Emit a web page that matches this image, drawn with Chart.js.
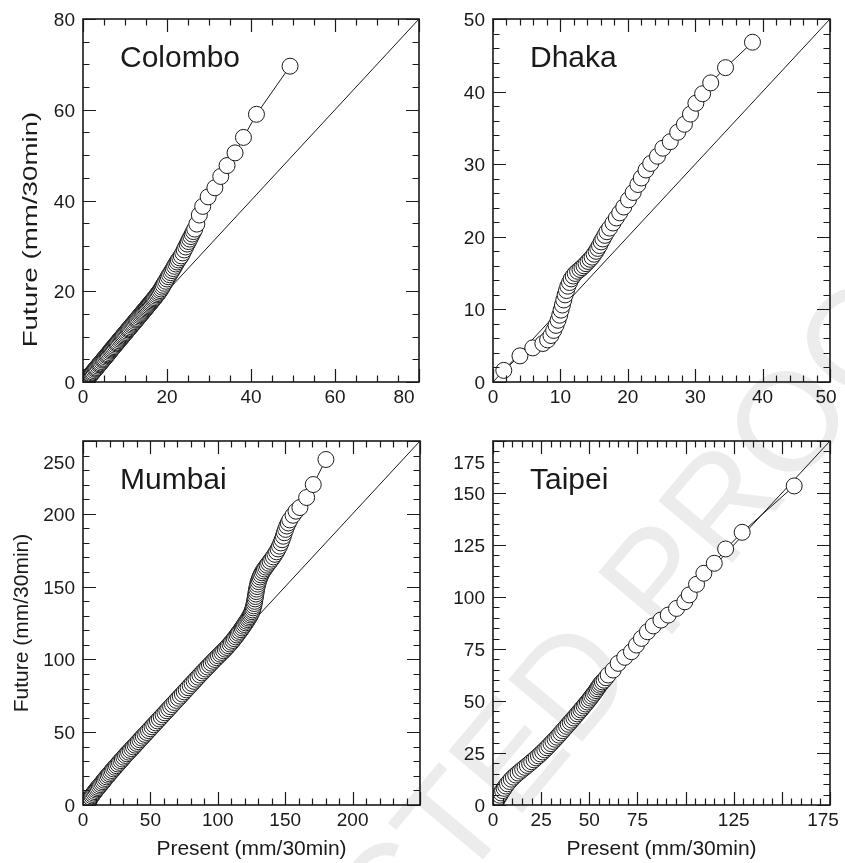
<!DOCTYPE html>
<html lang="en">
<head>
<meta charset="utf-8">
<title>Present vs Future 30-min rainfall</title>
<script src="https://cdn.jsdelivr.net/npm/chart.js@4.4.1/dist/chart.umd.min.js"></script>
<style>
    html, body { margin: 0; padding: 0; background: #fff; }
    #stage { position: relative; width: 845px; height: 863px; overflow: hidden; background: #fff; }
    #stage canvas { position: absolute; left: 0; top: 0; }
    #watermark {
        position: absolute; left: -97px; top: 1406px;
        font: 140px "Liberation Sans", Arial, sans-serif; line-height: 140px;
        color: #ececec; white-space: nowrap;
        transform-origin: 0 70px; transform: rotate(-50deg);
    }
</style>
</head>
<body>
<div id="stage">
    <div id="watermark">UNCORRECTED PROOF</div>
    <canvas id="colombo" width="845" height="863"></canvas>
    <canvas id="dhaka" width="845" height="863"></canvas>
    <canvas id="mumbai" width="845" height="863"></canvas>
    <canvas id="taipei" width="845" height="863"></canvas>
</div>
<script>
// Quantile pairs (mm/30min)
const colomboPresent = [0.4, 0.6, 0.8, 1.05, 1.3, 1.5, 1.7, 1.85, 2.0, 2.2, 2.4, 2.65, 2.9, 3.1, 3.3, 3.55, 3.8, 4.0, 4.2, 4.45, 4.7, 4.9, 5.1, 5.35, 5.6, 5.8, 6.0, 6.25, 6.5, 6.7, 6.9, 7.15, 7.4, 7.65, 7.9, 8.1, 8.3, 8.55, 8.8, 9.05, 9.3, 9.5, 9.7, 9.95, 10.2, 10.45, 10.7, 10.9, 11.1, 11.35, 11.6, 11.85, 12.1, 12.35, 12.6, 12.8, 13.0, 13.25, 13.5, 13.75, 14.0, 14.2, 14.4, 14.65, 14.9, 15.1, 15.3, 15.55, 15.8, 16.0, 16.2, 16.45, 16.7, 16.9, 17.1, 17.35, 17.6, 17.85, 18.1, 18.35, 18.6, 18.85, 19.1, 19.4, 19.7, 20.0, 20.3, 20.6, 20.9, 21.2, 21.5, 21.8, 22.1, 22.4, 22.7, 23.05, 23.4, 23.75, 24.1, 24.45, 24.8, 25.1, 25.4, 25.7, 26.0, 26.3, 26.6, 27.1, 27.7, 28.5, 29.8, 31.4, 32.8, 34.3, 36.2, 38.2, 41.3, 49.3];
const colomboFuture = [0.3, 0.45, 0.6, 0.85, 1.1, 1.3, 1.5, 1.65, 1.8, 2.0, 2.2, 2.5, 2.8, 3.0, 3.2, 3.5, 3.8, 4.0, 4.2, 4.5, 4.8, 5.0, 5.2, 5.5, 5.8, 6.0, 6.2, 6.5, 6.8, 7.05, 7.3, 7.55, 7.8, 8.1, 8.4, 8.6, 8.8, 9.1, 9.4, 9.65, 9.9, 10.15, 10.4, 10.65, 10.9, 11.2, 11.5, 11.7, 11.9, 12.2, 12.5, 12.75, 13.0, 13.3, 13.6, 13.8, 14.0, 14.3, 14.6, 14.85, 15.1, 15.35, 15.6, 15.85, 16.1, 16.35, 16.6, 16.85, 17.1, 17.35, 17.6, 17.85, 18.1, 18.35, 18.6, 18.9, 19.2, 19.5, 19.8, 20.15, 20.5, 20.9, 21.3, 21.75, 22.2, 22.7, 23.2, 23.65, 24.1, 24.55, 25.0, 25.5, 26.0, 26.45, 26.9, 27.35, 27.8, 28.45, 29.1, 29.75, 30.4, 30.95, 31.5, 32.05, 32.6, 33.15, 33.7, 34.8, 36.8, 38.7, 40.8, 42.8, 45.3, 47.7, 50.5, 53.9, 59.0, 69.6];

const dhakaPresent = [1.6, 4.0, 5.9, 7.4, 8.1, 8.6, 9.0, 9.35, 9.65, 9.9, 10.1, 10.3, 10.5, 10.7, 10.9, 11.1, 11.35, 11.6, 11.9, 12.2, 12.55, 12.9, 13.2, 13.5, 13.8, 14.1, 14.4, 14.7, 15.0, 15.3, 15.55, 15.8, 16.05, 16.3, 16.6, 16.9, 17.3, 17.8, 18.3, 18.8, 19.4, 20.1, 20.8, 21.5, 22.0, 22.7, 23.4, 24.4, 25.2, 26.3, 27.4, 28.4, 29.3, 30.1, 31.1, 32.3, 34.5, 38.5];
const dhakaFuture = [1.6, 3.6, 4.7, 5.3, 5.8, 6.4, 7.1, 7.8, 8.5, 9.2, 9.9, 10.6, 11.3, 12.0, 12.6, 13.2, 13.7, 14.2, 14.6, 14.95, 15.25, 15.5, 15.75, 16.0, 16.3, 16.6, 16.9, 17.2, 17.6, 18.0, 18.4, 18.8, 19.3, 19.7, 20.2, 20.7, 21.2, 21.9, 22.6, 23.3, 24.1, 25.1, 26.1, 27.2, 28.1, 29.2, 30.1, 31.1, 32.2, 33.1, 34.4, 35.5, 36.9, 38.4, 39.7, 41.2, 43.3, 46.8];

const mumbaiPresent = [3.5, 4.2, 5.0, 5.7, 6.5, 7.2, 8.0, 8.8, 9.6, 10.4, 11.2, 12.1, 13.0, 13.9, 14.8, 15.7, 16.7, 17.6, 18.6, 19.6, 20.6, 21.6, 22.7, 23.7, 24.8, 25.9, 27.0, 28.1, 29.2, 30.3, 31.5, 32.6, 33.8, 35.0, 36.2, 37.4, 38.6, 39.8, 41.0, 42.2, 43.5, 44.7, 46.0, 47.3, 48.6, 49.9, 51.2, 52.5, 53.9, 55.2, 56.6, 58.0, 59.4, 60.8, 62.2, 63.6, 65.0, 66.4, 67.9, 69.3, 70.8, 72.2, 73.7, 75.1, 76.6, 78.0, 79.5, 80.9, 82.4, 83.8, 85.3, 86.7, 88.2, 89.6, 91.0, 92.4, 93.8, 95.1, 96.5, 97.8, 99.2, 100.5, 101.8, 103.0, 104.3, 105.5, 106.7, 107.8, 109.0, 110.1, 111.2, 112.2, 113.3, 114.3, 115.3, 116.2, 117.2, 118.1, 119.0, 119.8, 120.7, 121.4, 122.2, 122.9, 123.6, 124.2, 124.8, 125.3, 125.8, 126.2, 126.6, 127.0, 127.3, 127.6, 127.9, 128.2, 128.5, 128.8, 129.2, 129.6, 130.1, 130.7, 131.3, 132.0, 132.8, 133.7, 134.6, 135.6, 136.6, 137.7, 138.8, 140.0, 141.2, 142.4, 143.6, 144.7, 145.8, 146.8, 147.7, 148.6, 149.4, 150.3, 151.2, 152.3, 153.4, 155.8, 158.0, 160.9, 165.9, 170.8, 180.2];
const mumbaiFuture = [2.0, 3.1, 4.2, 5.25, 6.3, 7.25, 8.2, 9.2, 10.2, 11.1, 12.0, 13.0, 14.0, 15.0, 16.0, 17.1, 18.2, 19.3, 20.4, 21.45, 22.5, 23.65, 24.8, 25.9, 27.0, 28.15, 29.3, 30.45, 31.6, 32.8, 34.0, 35.15, 36.3, 37.5, 38.7, 39.9, 41.1, 42.3, 43.5, 44.75, 46.0, 47.25, 48.5, 49.8, 51.1, 52.4, 53.7, 55.05, 56.4, 57.75, 59.1, 60.5, 61.9, 63.3, 64.7, 66.1, 67.5, 68.95, 70.4, 71.85, 73.3, 74.75, 76.2, 77.65, 79.1, 80.55, 82.0, 83.45, 84.9, 86.35, 87.8, 89.25, 90.7, 92.05, 93.4, 94.75, 96.1, 97.4, 98.7, 99.95, 101.2, 102.4, 103.6, 104.75, 105.9, 107.05, 108.2, 109.4, 110.6, 111.8, 113.0, 114.25, 115.5, 116.75, 118.0, 119.2, 120.4, 121.6, 122.8, 123.95, 125.1, 126.2, 127.3, 128.35, 129.4, 130.5, 131.6, 132.8, 134.0, 135.4, 136.8, 138.35, 139.9, 141.55, 143.2, 144.9, 146.6, 148.3, 150.0, 151.7, 153.4, 155.0, 156.6, 158.05, 159.5, 160.8, 162.1, 163.4, 164.7, 166.05, 167.4, 168.9, 170.4, 172.15, 173.9, 175.85, 177.8, 180.0, 182.2, 184.6, 187.0, 189.3, 191.6, 193.7, 195.8, 199.0, 201.8, 204.3, 211.2, 220.1, 237.3];

const taipeiPresent = [1.5, 2.1, 2.8, 3.5, 4.2, 5.0, 5.8, 6.6, 7.5, 8.5, 9.5, 10.6, 11.8, 13.0, 14.2, 15.4, 16.6, 17.8, 19.0, 20.1, 21.3, 22.4, 23.6, 24.7, 25.8, 26.9, 28.0, 29.0, 30.1, 31.1, 32.2, 33.2, 34.2, 35.2, 36.2, 37.2, 38.2, 39.1, 40.1, 41.0, 42.0, 42.9, 43.8, 44.7, 45.6, 46.4, 47.3, 48.1, 49.0, 49.8, 50.6, 51.3, 52.1, 52.8, 53.5, 54.1, 54.8, 55.4, 56.0, 56.8, 57.7, 58.7, 59.8, 62.4, 65.0, 68.4, 71.9, 74.5, 77.1, 80.2, 83.2, 87.2, 91.0, 95.3, 99.6, 101.9, 105.7, 109.5, 114.9, 120.8, 129.4, 156.4];
const taipeiFuture = [1.5, 2.5, 3.6, 4.7, 5.8, 6.9, 8.0, 9.1, 10.2, 11.3, 12.4, 13.4, 14.4, 15.35, 16.3, 17.2, 18.1, 19.0, 19.9, 20.8, 21.7, 22.65, 23.6, 24.55, 25.5, 26.5, 27.5, 28.5, 29.5, 30.55, 31.6, 32.6, 33.6, 34.65, 35.7, 36.75, 37.8, 38.8, 39.8, 40.8, 41.8, 42.8, 43.8, 44.75, 45.7, 46.65, 47.6, 48.55, 49.5, 50.45, 51.4, 52.3, 53.2, 54.1, 55.0, 55.9, 56.8, 57.6, 58.4, 59.2, 60.0, 61.2, 62.5, 64.9, 68.1, 71.0, 73.7, 76.9, 80.1, 83.3, 86.1, 88.9, 91.3, 94.5, 97.7, 101.0, 106.1, 111.4, 116.2, 123.1, 131.1, 153.4];

// axis ranges and the tick labels printed on each axis
const colomboRange = [0, 80];
const colomboTicks = [0, 20, 40, 60, 80];
const dhakaRange = [0, 50];
const dhakaTicks = [0, 10, 20, 30, 40, 50];
const mumbaiRange = [0, 250];
const mumbaiXTicks = [0, 50, 100, 150, 200];
const mumbaiYTicks = [0, 50, 100, 150, 200, 250];
const taipeiRange = [0, 175];
const taipeiXTicks = [0, 25, 50, 75, 125, 175];
const taipeiYTicks = [0, 25, 50, 75, 100, 125, 150, 175];

const PAGE_W = 845, PAGE_H = 863;
const INK = '#1a1a1a';
const FONT = '"Liberation Sans", Arial, Helvetica, sans-serif';
const X_TITLE = 'Present (mm/30min)';
const Y_TITLE = 'Future (mm/30min)';

Chart.defaults.font.family = FONT;
Chart.defaults.color = INK;
Chart.defaults.animation = false;

const panels = [
    { canvas: 'colombo', name: 'Colombo', present: colomboPresent, future: colomboFuture, range: colomboRange,
      xTicks: colomboTicks, yTicks: colomboTicks, minor: 5, major: 20,
      box: { left: 83, top: 19, right: 419, bottom: 382 }, yWidth: 64, xHeight: 40,
      yTitle: false, xTitle: false, nudgeX: { 80: -15 }, nudgeY: {},
      // this panel's y title is printed longer and lower than the one below it
      stretchedTitle: { scale: 1.32, shift: 29 } },
    { canvas: 'dhaka', name: 'Dhaka', present: dhakaPresent, future: dhakaFuture, range: dhakaRange,
      xTicks: dhakaTicks, yTicks: dhakaTicks, minor: 2, major: 10,
      box: { left: 493, top: 19, right: 830, bottom: 382 }, yWidth: 60, xHeight: 40,
      yTitle: false, xTitle: false, nudgeX: { 50: -4 }, nudgeY: {} },
    { canvas: 'mumbai', name: 'Mumbai', present: mumbaiPresent, future: mumbaiFuture, range: mumbaiRange,
      xTicks: mumbaiXTicks, yTicks: mumbaiYTicks, minor: 10, major: 50,
      box: { left: 83, top: 441, right: 420, bottom: 805 }, yWidth: 73, xHeight: 57,
      yTitle: true, xTitle: true, nudgeX: {}, nudgeY: { 250: 21 } },
    { canvas: 'taipei', name: 'Taipei', present: taipeiPresent, future: taipeiFuture, range: taipeiRange,
      xTicks: taipeiXTicks, yTicks: taipeiYTicks, minor: 5, major: 25,
      box: { left: 493, top: 441, right: 830, bottom: 805 }, yWidth: 60, xHeight: 57,
      yTitle: false, xTitle: true, nudgeX: { 175: -7 }, nudgeY: { 175: 21 } }
];

// frame, inward ticks on all four sides, tick labels and the city name
function makeFrame(p) {
    return {
        id: 'frame-' + p.canvas,
        afterDraw(chart) {
            const { ctx, chartArea: a, scales: { x, y } } = chart;
            ctx.save();
            ctx.strokeStyle = INK;
            ctx.lineWidth = 1.2;
            ctx.beginPath();
            x.ticks.forEach(t => {
                const px = Math.round(x.getPixelForValue(t.value)) + 0.5;
                const len = t.value % p.major === 0 ? 13 : 6.5;
                ctx.moveTo(px, a.bottom); ctx.lineTo(px, a.bottom - len);
                ctx.moveTo(px, a.top); ctx.lineTo(px, a.top + len);
            });
            y.ticks.forEach(t => {
                const py = Math.round(y.getPixelForValue(t.value)) + 0.5;
                const len = t.value % p.major === 0 ? 13 : 6.5;
                ctx.moveTo(a.left, py); ctx.lineTo(a.left + len, py);
                ctx.moveTo(a.right, py); ctx.lineTo(a.right - len, py);
            });
            ctx.stroke();
            ctx.lineWidth = 1.6;
            ctx.strokeRect(a.left, a.top, a.right - a.left, a.bottom - a.top);

            ctx.fillStyle = INK;
            ctx.textBaseline = 'alphabetic';
            ctx.font = '19px ' + FONT;
            ctx.textAlign = 'center';
            p.xTicks.forEach(v => ctx.fillText(String(v), x.getPixelForValue(v) + (p.nudgeX[v] || 0), a.bottom + 21));
            ctx.textAlign = 'right';
            p.yTicks.forEach(v => ctx.fillText(String(v), a.left - 8, y.getPixelForValue(v) + 7 + (p.nudgeY[v] || 0)));

            ctx.textAlign = 'left';
            ctx.font = '30px ' + FONT;
            ctx.fillText(p.name, a.left + 37, a.top + 48);

            if (p.stretchedTitle) {
                ctx.font = '21px ' + FONT;
                ctx.textAlign = 'center';
                ctx.textBaseline = 'middle';
                ctx.translate(a.left - p.yWidth + 12.6, (a.top + a.bottom) / 2 + p.stretchedTitle.shift);
                ctx.rotate(-Math.PI / 2);
                ctx.scale(p.stretchedTitle.scale, 1);
                ctx.fillText(Y_TITLE, 0, 0);
            }
            ctx.restore();
        }
    };
}

function axisOptions(p, isY) {
    const hasTitle = isY ? p.yTitle : p.xTitle;
    return {
        type: 'linear',
        min: p.range[0],
        max: p.range[1],
        grid: { display: false, drawTicks: false },
        border: { display: false },
        ticks: { display: false, stepSize: p.minor },
        title: { display: hasTitle, text: isY ? Y_TITLE : X_TITLE, color: INK, font: { size: 21 }, padding: 0 },
        afterFit(scale) {
            if (isY) scale.width = p.yWidth; else scale.height = p.xHeight;
            scale.paddingLeft = scale.paddingRight = scale.paddingTop = scale.paddingBottom = 0;
        }
    };
}

function buildChart(p) {
    const quantiles = p.present.map((v, i) => ({ x: v, y: p.future[i] }));
    const oneToOne = p.range.map(v => ({ x: v, y: v }));
    return new Chart(document.getElementById(p.canvas), {
        type: 'scatter',
        data: {
            datasets: [
                { data: quantiles, showLine: true, borderColor: INK, borderWidth: 1, pointRadius: 8, pointHoverRadius: 8,
                  pointBackgroundColor: '#fff', pointBorderColor: INK, pointBorderWidth: 1, clip: 0 },
                { data: oneToOne, showLine: true, borderColor: INK, borderWidth: 1, pointRadius: 0, pointHoverRadius: 0, clip: 0 }
            ]
        },
        options: {
            responsive: false,
            devicePixelRatio: 1,
            animation: false,
            events: [],
            layout: { padding: { left: p.box.left - p.yWidth, top: p.box.top, right: PAGE_W - p.box.right, bottom: PAGE_H - p.box.bottom - p.xHeight } },
            plugins: { legend: { display: false }, tooltip: { enabled: false } },
            scales: { x: axisOptions(p, false), y: axisOptions(p, true) }
        },
        plugins: [makeFrame(p)]
    });
}

panels.forEach(buildChart);
</script>
</body>
</html>
